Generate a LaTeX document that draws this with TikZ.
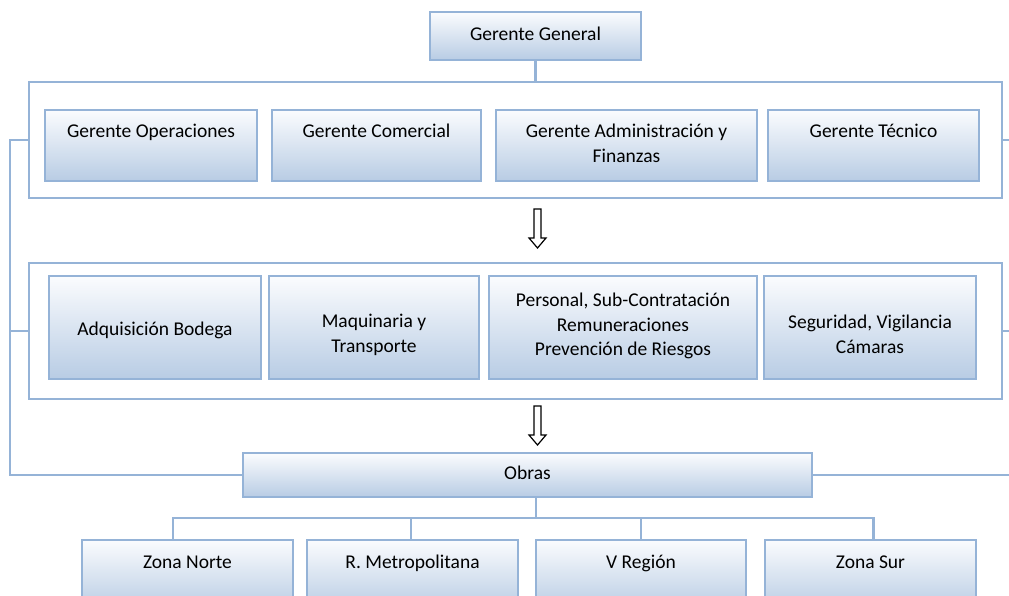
\documentclass[tikz,border=0pt]{standalone}
\usepackage{fontspec}
\setmainfont{Carlito}
\begin{document}
\definecolor{edge}{RGB}{149,179,215}
\definecolor{boxtop}{RGB}{251,252,254}
\definecolor{boxbot}{RGB}{184,204,228}
\tikzset{
  box/.style args={#1/#2}{draw=edge, line width=2.6pt, top color=boxtop,
    bottom color=boxbot, minimum width=#1, minimum height=#2, inner sep=0pt},
  frame/.style args={#1/#2}{draw=edge, line width=2.4pt, minimum width=#1,
    minimum height=#2, inner sep=0pt},
  txt/.style={anchor=base, text width=300pt, align=flush center, inner sep=0pt,
    outer sep=0pt, label distance=0pt, yshift=-#1,
    font=\fontsize{19.5}{24.4}\selectfont},
  conn/.style={draw=edge, line width=2.4pt},
  arrowline/.style={draw=black, line width=1.2pt, fill=white, line join=miter},
  downarrow/.pic={\draw[arrowline] (-3.5,0) -- (3.5,0) -- (3.5,29) -- (8.5,29)
    -- (0,39) -- (-8.5,29) -- (-3.5,29) -- cycle;}
}
\begin{tikzpicture}[x=1pt, y=-1pt]
  \useasboundingbox (0,0) rectangle (1009,596);
  \clip (0,0) rectangle (1009,596);

  % outer edge and spine positions used by the connectors
  \coordinate (rim) at (1012,0);
  \coordinate (spine) at (536,0);
  \coordinate (bus) at (0,518);

  % top manager
  \node[box=211pt/48pt, label={[txt=30]north:Gerente General}] (gg) at (535.5,36) {};

  % first group of managers
  \node[frame=973pt/116pt] (f1) at (515.5,140) {};
  \node[box=212pt/71pt, label={[txt=29]north:Gerente Operaciones}] (g1) at (151,145.5) {};
  \node[box=209pt/71pt, label={[txt=29]north:Gerente Comercial}] (g2) at (376.5,145.5) {};
  \node[box=261pt/71pt, label={[txt=29]north:{Gerente Administración y\\Finanzas}}] (g3) at (626.5,145.5) {};
  \node[box=211pt/71pt, label={[txt=29]north:Gerente Técnico}] (g4) at (873.5,145.5) {};

  % second group of departments
  \node[frame=973pt/136pt] (f2) at (515.5,331) {};
  \node[box=212pt/103pt, label={[txt=61]north:Adquisición Bodega}] (a1) at (155,327.5) {};
  \node[box=210pt/103pt, label={[txt=53]north:{Maquinaria y\\Transporte}}] (a2) at (374,327.5) {};
  \node[box=268pt/103pt, label={[txt=32]north:{Personal, Sub-Contratación\\Remuneraciones\\Prevención de Riesgos}}] (a3) at (623,327.5) {};
  \node[box=212pt/103pt, label={[txt=54]north:{Seguridad, Vigilancia\\Cámaras}}] (a4) at (870,327.5) {};

  % works and zones
  \node[box=569pt/44pt, label={[txt=28]north:Obras}] (ob) at (527.5,475) {};
  \node[box=211pt/70pt, label={[txt=30]north:Zona Norte}] (zn) at (187.5,575) {};
  \node[box=211pt/70pt, label={[txt=30]north:R. Metropolitana}] (rm) at (412.5,575) {};
  \node[box=210pt/70pt, label={[txt=30]north:V Región}] (vr) at (641,575) {};
  \node[box=211pt/70pt, label={[txt=30]north:Zona Sur}] (zs) at (870.5,575) {};

  % connectors
  \draw[conn] (gg.south) -- (gg.south |- f1.north);
  \draw[conn] (f1.west) -- ++(-18,0) |- (ob.west);
  \draw[conn] (f2.west) -- ++(-18,0);
  \draw[conn] (f1.east) -- (f1.east -| rim);
  \draw[conn] (f2.east) -- (f2.east -| rim);
  \draw[conn] (ob.east) -- (ob.east -| rim);
  \draw[conn] (spine |- ob.south) -- (spine |- bus);
  \draw[conn] ([xshift=-14.5pt]zn.north) |- ([xshift=3pt]zs.north |- bus) -- ([xshift=3pt]zs.north);
  \draw[conn] ([xshift=-1.5pt]rm.north) -- ([xshift=-1.5pt]rm.north |- bus);
  \draw[conn] (vr.north) -- (vr.north |- bus);

  % hollow arrows between the groups
  \pic at (537.5,209) {downarrow};
  \pic at (537.5,406) {downarrow};
\end{tikzpicture}
\end{document}
